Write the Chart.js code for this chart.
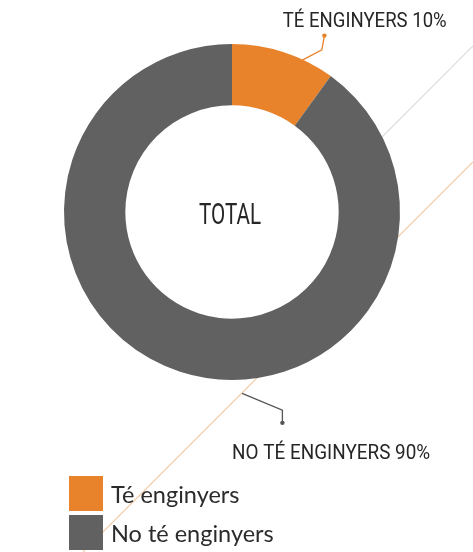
<!DOCTYPE html>
<html>
<head>
<meta charset="utf-8">
<script src="https://cdn.jsdelivr.net/npm/chart.js@4"></script>
<style>
  html, body { margin: 0; padding: 0; background: #fff; }
  #wrap { width: 473px; height: 552px; position: relative; }
</style>
</head>
<body>
<div id="wrap"><canvas id="grafic"></canvas></div>
<script>
// dades del gràfic
var categories = ['Té enginyers', 'No té enginyers'];
var valors = [10, 90];
var colors = ['#e8832b', '#616161'];
var titolCentre = 'TOTAL';

// lletra estreta simulada: Roboto comprimida horitzontalment
function textEstret(ctx, text, x, y, mida, ample) {
  ctx.save();
  ctx.font = mida + 'px Roboto, sans-serif';
  var w = ctx.measureText(text).width;
  var s = ample / w;
  ctx.translate(x, y);
  ctx.scale(s, 1);
  ctx.textAlign = 'center';
  ctx.textBaseline = 'middle';
  ctx.fillText(text, 0, 0);
  ctx.restore();
}

// línies diagonals de fons, darrere del donut
var fonsLinies = {
  id: 'fonsLinies',
  beforeDatasetsDraw: function(chart) {
    var ctx = chart.ctx;
    ctx.save();
    ctx.lineWidth = 1.2;
    ctx.strokeStyle = '#dedede';
    ctx.beginPath();
    ctx.moveTo(473, 46);
    ctx.lineTo(350, 169);
    ctx.stroke();
    ctx.strokeStyle = '#f2cdab';
    ctx.beginPath();
    ctx.moveTo(473, 162);
    ctx.lineTo(83, 552);
    ctx.stroke();
    ctx.restore();
  }
};

// etiquetes amb línia guia, text central i llegenda
var etiquetes = {
  id: 'etiquetes',
  afterDatasetsDraw: function(chart) {
    var ctx = chart.ctx;
    var arcs = chart.getDatasetMeta(0).data;
    var a = arcs[0];
    var cx = a.x, cy = a.y, r = a.outerRadius;
    ctx.save();

    // text central
    ctx.fillStyle = '#262626';
    textEstret(ctx, titolCentre, cx - 2, cy + 4, 30, 62);

    // guies: punts relatius al radi
    var guies = [
      { pts: [[0.41, -0.90], [0.535, -0.965], [0.55, -1.05]], color: colors[0],
        text: [cx + 0.79 * r, cy - 1.13 * r], ample: 164 },
      { pts: [[0.06, 1.08], [0.30, 1.18], [0.30, 1.255]], color: '#555',
        text: [cx + 0.59 * r, cy + 1.44 * r], ample: 198 }
    ];
    guies.forEach(function(g, i) {
      ctx.strokeStyle = g.color;
      ctx.fillStyle = g.color;
      ctx.lineWidth = 1.3;
      ctx.beginPath();
      g.pts.forEach(function(p, j) {
        var x = cx + p[0] * r, y = cy + p[1] * r;
        if (j === 0) ctx.moveTo(x, y); else ctx.lineTo(x, y);
      });
      ctx.stroke();
      var last = g.pts[g.pts.length - 1];
      ctx.beginPath();
      ctx.arc(cx + last[0] * r, cy + last[1] * r, 2.2, 0, Math.PI * 2);
      ctx.fill();
      ctx.fillStyle = '#262626';
      textEstret(ctx, categories[i].toUpperCase() + ' ' + valors[i] + '%', g.text[0], g.text[1], 19.5, g.ample);
    });

    // llegenda
    ctx.textAlign = 'left';
    ctx.textBaseline = 'middle';
    ctx.font = "23.5px Lato, 'Open Sans', sans-serif";
    categories.forEach(function(c, i) {
      var y = 476 + i * 39;
      ctx.fillStyle = colors[i];
      ctx.fillRect(69, y, 34, 35);
      ctx.fillStyle = '#2b2b2b';
      ctx.fillText(c, 111, y + 19);
    });
    ctx.restore();
  }
};

new Chart(document.getElementById('grafic'), {
  type: 'doughnut',
  data: {
    labels: categories,
    datasets: [{
      data: valors,
      backgroundColor: colors,
      borderWidth: 0
    }]
  },
  options: {
    responsive: true,
    maintainAspectRatio: false,
    animation: false,
    cutout: '63.5%',
    layout: { padding: { left: 64, right: 73, top: 44, bottom: 172 } },
    plugins: {
      legend: { display: false },
      tooltip: { enabled: false }
    }
  },
  plugins: [fonsLinies, etiquetes]
});
</script>
</body>
</html>
